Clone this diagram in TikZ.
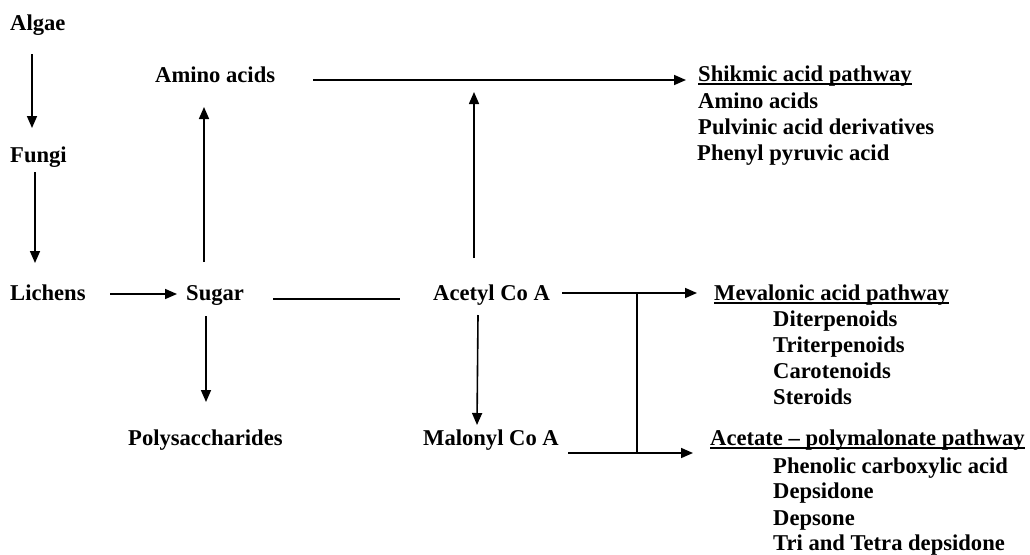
\documentclass[tikz,border=0pt]{standalone}
\usepackage{fontspec}
\setmainfont{Liberation Serif}
\usetikzlibrary{calc,arrows.meta}
\begin{document}
\begin{tikzpicture}[x=1pt,y=-1pt,
  txt/.style={anchor=base west,inner sep=0pt,font=\fontsize{22.6}{27}\selectfont\bfseries},
  arr/.style={line width=1.6pt,-{Triangle[length=12pt,width=10pt]}},
  ln/.style={line width=1.6pt},
  uline/.style={line width=1.6pt}]
\useasboundingbox (0,0) rectangle (1030,554);
% left column
\node[txt] (algae) at (10,30) {Algae};
\node[txt] (fungi) at (10,162) {Fungi};
\node[txt] (lichens) at (10,300) {Lichens};
\node[txt] (sugar) at (186,300) {Sugar};
\node[txt] (amino) at (155,82) {Amino acids};
\node[txt] (poly) at (128,445) {Polysaccharides};
\node[txt] (acetyl) at (433,300) {Acetyl Co A};
\node[txt] (malonyl) at (423,445) {Malonyl Co A};
% right lists
\node[txt] (shik) at (698,81) {Shikmic acid pathway};
\node[txt] (s1) at (698,108) {Amino acids};
\node[txt] (s2) at (698,134) {Pulvinic acid derivatives};
\node[txt] (s3) at (697,160) {Phenyl pyruvic acid};
\node[txt] (mev) at (714,300) {Mevalonic acid pathway};
\node[txt] (m1) at (773,326) {Diterpenoids};
\node[txt] (m2) at (773,352) {Triterpenoids};
\node[txt] (m3) at (773,378) {Carotenoids};
\node[txt] (m4) at (773,404) {Steroids};
\node[txt] (acet) at (710,445) {Acetate -- polymalonate pathway};
\node[txt] (a1) at (773,473) {Phenolic carboxylic acid};
\node[txt] (a2) at (773,498) {Depsidone};
\node[txt] (a3) at (773,525) {Depsone};
\node[txt] (a4) at (773,550) {Tri and Tetra depsidone};
% underlines
\draw[uline] ($(shik.base west)+(0,3)$) -- ($(shik.base east)+(0,3)$);
\draw[uline] ($(mev.base west)+(0,3)$) -- ($(mev.base east)+(0,3)$);
\draw[uline] ($(acet.base west)+(0,3)$) -- ($(acet.base east)+(0,3)$);
% connectors
\draw[arr] ($(algae.base west)+(22,24)$) -- ($(fungi.base west)+(22,-34)$);
\draw[arr] ($(fungi.base west)+(25,10)$) -- ($(lichens.base west)+(25,-37)$);
\draw[arr] ($(lichens.base west)+(100,-6)$) -- ($(sugar.base west)+(-9,-6)$);
\draw[ln] ($(sugar.base west)+(87,-1)$) -- ($(acetyl.base west)+(-33,-1)$);
\draw[arr] ($(sugar.base west)+(18,-38)$) -- ($(amino.base west)+(49,25)$);
\draw[arr] ($(sugar.base west)+(20,16)$) -- ($(poly.base west)+(78,-43)$);
\draw[arr] ($(amino.base west)+(158,-2)$) -- ($(shik.base west)+(-12,-1)$);
\draw[arr] ($(acetyl.base west)+(41,-42)$) -- ($(amino.base west)+(319,10)$);
\draw[arr] ($(acetyl.base west)+(129,-7)$) -- ($(mev.base west)+(-17,-7)$);
\draw[line width=1.3pt] ($(acetyl.base west)+(204,-7)$) -- ($(malonyl.base west)+(214,8)$);
\draw[arr] ($(malonyl.base west)+(145,8)$) -- ($(acet.base west)+(-17,8)$);
\draw[arr] ($(acetyl.base west)+(45,15)$) -- ($(malonyl.base west)+(54,-20)$);
\end{tikzpicture}
\end{document}
